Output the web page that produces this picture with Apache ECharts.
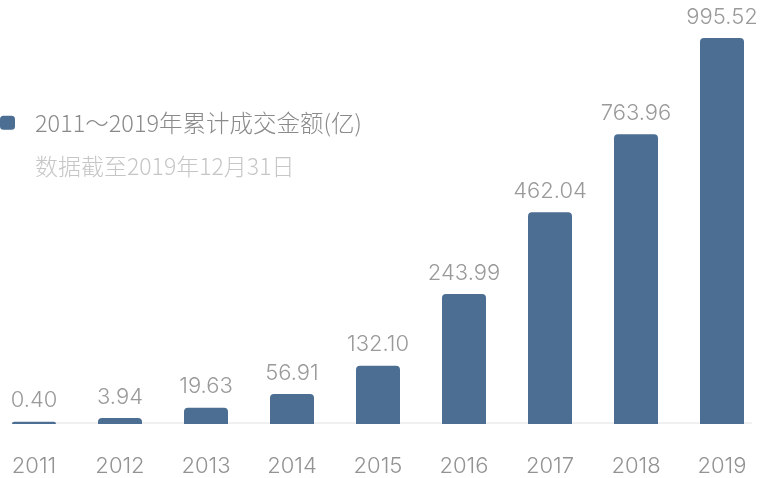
<!DOCTYPE html>
<html>
<head>
<meta charset="utf-8">
<script src="https://cdn.jsdelivr.net/npm/echarts@6/dist/echarts.min.js"></script>
<style>
html,body{margin:0;padding:0;background:#fff;}
#c{width:760px;height:478px;}
</style>
</head>
<body>
<div id="c"></div>
<script>
// Categories (years)
var years = ['2011','2012','2013','2014','2015','2016','2017','2018','2019'];
// Stated cumulative amounts (label values, 亿)
var amounts = [0.40, 3.94, 19.63, 56.91, 132.10, 243.99, 462.04, 763.96, 995.52];
// Bar heights as drawn in the reference (same unit scale)
var barHeights = [6, 15.5, 42, 77, 150, 335, 546, 747, 995];
var seriesName = '2011～2019年累计成交金额(亿)';
var subtitle = '数据截至2019年12月31日';

var numFont = "Inter, 'Noto Sans CJK SC', sans-serif";
var cjkFont = "'Noto Sans CJK SC', sans-serif";

var chart = echarts.init(document.getElementById('c'), null, {renderer:'canvas'});
chart.setOption({
  animation:false,
  backgroundColor:'#ffffff',
  title:{
    text: subtitle,
    left: 35, top: 155, padding:0,
    textStyle:{fontFamily:cjkFont, fontSize:23, fontWeight:300, color:'#c6c6c6'}
  },
  legend:{
    left:0, top:111, padding:0,
    icon:'roundRect',
    itemWidth:15, itemHeight:14,
    data:[seriesName],
    selectedMode:false,
    textStyle:{fontFamily:cjkFont, fontSize:23.5, fontWeight:300, color:'#8a8a8a', padding:[0,0,0,15]}
  },
  grid:[
    {left:-9, width:774, top:36, bottom:54, outerBoundsMode:'none', containLabel:false},
    {left:12, right:9, top:36, bottom:55, outerBoundsMode:'none', containLabel:false}
  ],
  xAxis:[
    {type:'category', gridIndex:0, data:years,
     axisLine:{show:false}, axisTick:{show:false},
     axisLabel:{margin:31, fontFamily:numFont, fontSize:22, fontWeight:300, color:'#939393'}},
    {type:'category', gridIndex:1, data:years,
     axisLine:{show:true, lineStyle:{color:'#f0f0f0', width:2}},
     axisTick:{show:false}, axisLabel:{show:false}}
  ],
  yAxis:[
    {type:'value', gridIndex:0, min:0, max:1000, show:false, splitLine:{show:false}},
    {type:'value', gridIndex:1, min:0, max:1000, show:false, splitLine:{show:false}}
  ],
  series:[{
    name: seriesName,
    type:'bar',
    xAxisIndex:0, yAxisIndex:0,
    data: barHeights,
    barWidth:44,
    itemStyle:{color:'#4b6e92', borderRadius:[4,4,0,0]},
    label:{
      show:true, position:'top', distance:10,
      fontFamily:numFont, fontSize:22, fontWeight:300, color:'#9a9a9a',
      formatter:function(p){ return amounts[p.dataIndex].toFixed(2); }
    }
  }]
});
</script>
</body>
</html>
